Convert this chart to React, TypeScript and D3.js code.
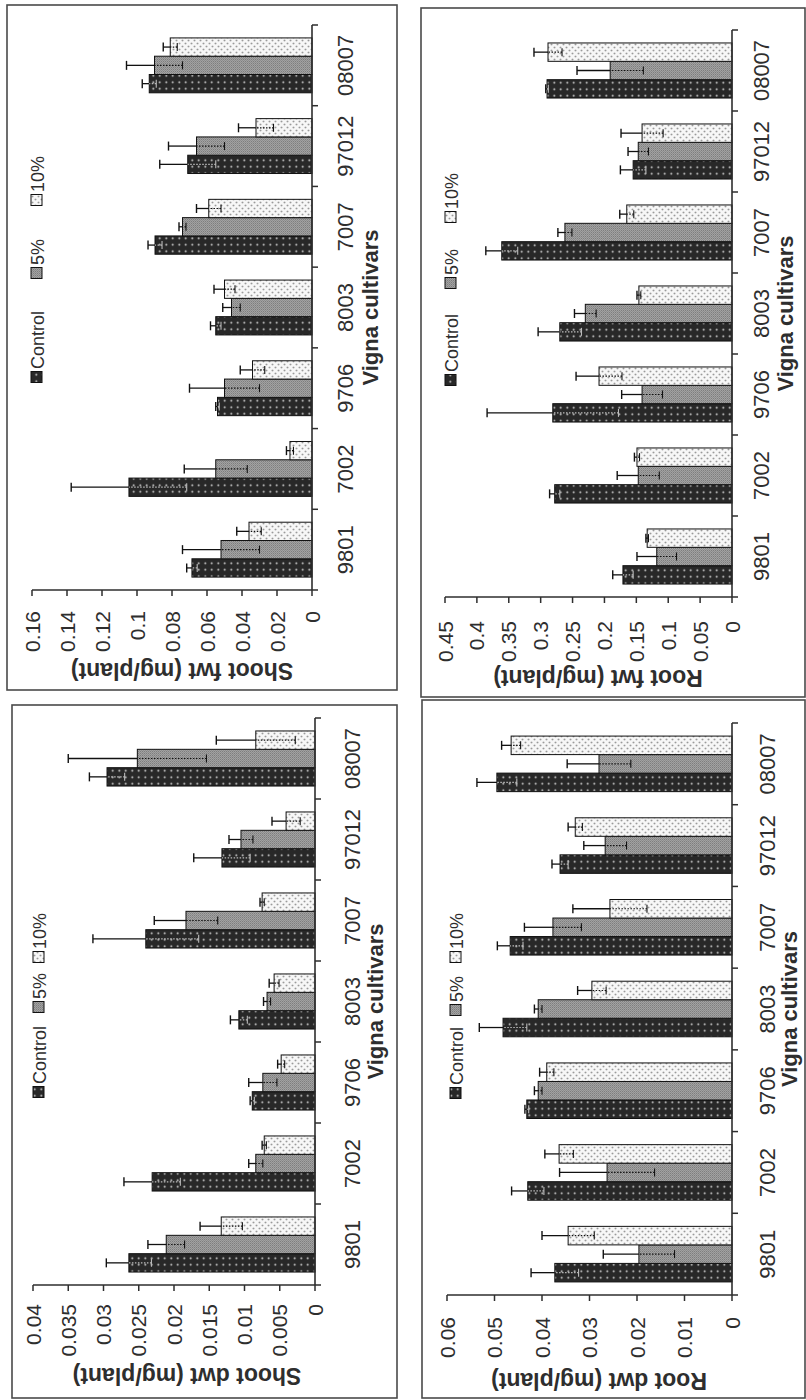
import React, { useEffect } from 'react';
import * as d3 from 'd3';

// ---------- data ----------
const cultivars = ['9801', '7002', '9706', '8003', '7007', '97012', '08007'];
const treatments = ['Control', '5%', '10%'];

// Shoot fresh weight
const shootFwtControl = [0.0686, 0.1046, 0.054, 0.055, 0.0897, 0.071, 0.093];
const shootFwtControlErr = [0.003, 0.033, 0.001, 0.003, 0.004, 0.016, 0.004];
const shootFwt5 = [0.052, 0.055, 0.05, 0.046, 0.074, 0.066, 0.09];
const shootFwt5Err = [0.022, 0.018, 0.02, 0.005, 0.002, 0.016, 0.016];
const shootFwt10 = [0.036, 0.0126, 0.034, 0.05, 0.059, 0.032, 0.081];
const shootFwt10Err = [0.007, 0.002, 0.007, 0.006, 0.007, 0.01, 0.004];
const shootFwtTicks = [0, 0.02, 0.04, 0.06, 0.08, 0.1, 0.12, 0.14, 0.16];

// Shoot dry weight
const shootDwtControl = [0.0264, 0.0231, 0.0089, 0.0108, 0.024, 0.0132, 0.0295];
const shootDwtControlErr = [0.0032, 0.004, 0.0003, 0.0012, 0.0075, 0.004, 0.0025];
const shootDwt5 = [0.0211, 0.0084, 0.0074, 0.0068, 0.0183, 0.0105, 0.0252];
const shootDwt5Err = [0.0026, 0.001, 0.002, 0.0005, 0.0045, 0.0017, 0.0098];
const shootDwt10 = [0.0133, 0.0072, 0.0048, 0.0058, 0.0075, 0.0041, 0.0084];
const shootDwt10Err = [0.003, 0.0003, 0.0005, 0.0007, 0.0003, 0.002, 0.0056];
const shootDwtTicks = [0, 0.005, 0.01, 0.015, 0.02, 0.025, 0.03, 0.035, 0.04];

// Root fresh weight
const rootFwtControl = [0.171, 0.278, 0.281, 0.27, 0.361, 0.155, 0.29];
const rootFwtControlErr = [0.016, 0.008, 0.103, 0.034, 0.025, 0.02, 0.002];
const rootFwt5 = [0.118, 0.147, 0.141, 0.23, 0.262, 0.147, 0.191];
const rootFwt5Err = [0.031, 0.033, 0.032, 0.017, 0.011, 0.016, 0.052];
const rootFwt10 = [0.133, 0.149, 0.2085, 0.146, 0.165, 0.141, 0.2885];
const rootFwt10Err = [0.002, 0.004, 0.036, 0.003, 0.011, 0.033, 0.022];
const rootFwtTicks = [0, 0.05, 0.1, 0.15, 0.2, 0.25, 0.3, 0.35, 0.4, 0.45];

// Root dry weight
const rootDwtControl = [0.0373, 0.043, 0.0432, 0.0482, 0.0467, 0.0362, 0.0495];
const rootDwtControlErr = [0.005, 0.0034, 0.0004, 0.005, 0.0027, 0.0017, 0.0042];
const rootDwt5 = [0.0196, 0.0263, 0.0408, 0.0408, 0.0377, 0.0267, 0.028];
const rootDwt5Err = [0.0075, 0.01, 0.0008, 0.0008, 0.006, 0.0045, 0.0067];
const rootDwt10 = [0.0345, 0.0364, 0.039, 0.0295, 0.0257, 0.033, 0.0465];
const rootDwt10Err = [0.0055, 0.003, 0.0015, 0.003, 0.0078, 0.0015, 0.002];
const rootDwtTicks = [0, 0.01, 0.02, 0.03, 0.04, 0.05, 0.06];

const xTitle = 'Vigna cultivars';

// ---------- layout (frame: u along original x, v along original y) ----------
type Layout = {
  tx: number; ty: number; boxW: number; boxH: number;
  cat: [number, number]; val: [number, number];
  tickEnd: number; titleU: number; titleV: number;
  catV: number; vignaV: number; legendV: number; legendU: number[];
};

const layoutA: Layout = { tx: 7, ty: 690, boxW: 685, boxH: 390, cat: [100, 665], val: [305, 25], tickEnd: 79, titleU: 27, titleV: 175, catV: 346, vignaV: 371, legendV: 37, legendU: [313, 417, 490] };
const layoutB: Layout = { tx: 12, ty: 1398, boxW: 693, boxH: 385, cat: [113, 680], val: [303, 21], tickEnd: 94, titleU: 30, titleV: 175, catV: 348, vignaV: 371, legendV: 34, legendU: [306, 391, 441] };
const layoutC: Layout = { tx: 421, ty: 697, boxW: 689, boxH: 384, cat: [100, 667], val: [311, 24], tickEnd: 76, titleU: 27, titleV: 177, catV: 348, vignaV: 372, legendV: 37, legendU: [317, 414, 480] };
const layoutD: Layout = { tx: 422, ty: 1398, boxW: 698, boxH: 383, cat: [103, 675], val: [310, 25], tickEnd: 81, titleU: 25, titleV: 177, catV: 353, vignaV: 375, legendV: 41, legendU: [305, 388, 441] };

const FONT = '"Liberation Sans", Arial, Helvetica, sans-serif';
const INK = '#2e2e2e';
const fills = ['url(#patCtrl)', 'url(#pat5)', 'url(#pat10)'];
const fmt = d3.format('~g');

type Series = { values: number[]; errors: number[] };

function Panel({ L, title, ticks, series, id }: { L: Layout; title: string; ticks: number[]; series: Series[]; id: string }) {
  const x = d3.scaleBand<string>().domain(cultivars).range(L.cat).padding(0);
  const y = d3.scaleLinear().domain([0, ticks[ticks.length - 1]]).range(L.val);
  const bw = x.bandwidth();
  const groupW = bw * 0.68;
  const barW = groupW / series.length;
  const y0 = y(0);
  const boundaries = cultivars.map((c) => x(c) as number).concat([L.cat[1]]);
  const catCenter = (L.cat[0] + L.cat[1]) / 2;

  return (
    <g transform={`translate(${L.tx},${L.ty}) rotate(-90)`} fontFamily={FONT}>
      <rect x={0} y={0} width={L.boxW} height={L.boxH} fill="none" stroke="#4a4a4a" strokeWidth={1.6} />
      {/* bars */}
      {cultivars.map((c, i) => {
        const gx = (x(c) as number) + (bw - groupW) / 2;
        return (
          <g key={c}>
            {series.map((s, k) => {
              const v = s.values[i];
              const e = s.errors[i];
              const bx = gx + k * barW;
              const cx = bx + barW / 2;
              const top = y(v);
              const hi = y(v + e);
              const lo = y(Math.max(0, v - e));
              return (
                <g key={k}>
                  <rect x={bx} y={top} width={barW} height={y0 - top} fill={fills[k]} stroke="#111" strokeWidth={1} />
                  <line x1={cx} x2={cx} y1={top} y2={hi} stroke="#111" strokeWidth={1.3} />
                  <line x1={cx} x2={cx} y1={lo} y2={top} stroke={k === 0 ? '#bbb' : '#111'} strokeWidth={1.2} strokeDasharray="1.5 1.5" />
                  <line x1={cx - 4.5} x2={cx + 4.5} y1={hi} y2={hi} stroke="#111" strokeWidth={1.4} />
                  <line x1={cx - 4} x2={cx + 4} y1={lo} y2={lo} stroke={k === 0 ? '#bbb' : '#111'} strokeWidth={1.1} />
                </g>
              );
            })}
          </g>
        );
      })}
      {/* value axis */}
      <line x1={L.cat[0]} x2={L.cat[0]} y1={y0} y2={y(ticks[ticks.length - 1])} stroke={INK} strokeWidth={1.6} />
      {ticks.map((t) => (
        <g key={t}>
          <line x1={L.cat[0] - 6} x2={L.cat[0]} y1={y(t)} y2={y(t)} stroke={INK} strokeWidth={1.5} />
          <text x={L.tickEnd} y={y(t)} textAnchor="end" dominantBaseline="central" fontSize={21} fill={INK}>{fmt(t)}</text>
        </g>
      ))}
      {/* category axis */}
      <line x1={L.cat[0]} x2={L.cat[1]} y1={y0} y2={y0} stroke={INK} strokeWidth={1.6} />
      {boundaries.map((b, i) => (
        <line key={i} x1={b} x2={b} y1={y0} y2={y0 + 6} stroke={INK} strokeWidth={1.5} />
      ))}
      {cultivars.map((c) => (
        <text key={c} x={(x(c) as number) + bw / 2} y={L.catV} textAnchor="middle" fontSize={22} fill={INK}>{c}</text>
      ))}
      <text x={catCenter} y={L.vignaV} textAnchor="middle" fontSize={22} fontWeight="bold" fill={INK}>{xTitle}</text>
      {/* y title */}
      <text transform={`translate(${L.titleU},${L.titleV}) rotate(-90)`} textAnchor="middle" fontSize={23} fontWeight="bold" fill={INK}>{title}</text>
      {/* legend */}
      {treatments.map((t, k) => (
        <g key={t}>
          <rect x={L.legendU[k] - 5.5} y={L.legendV - 13} width={11} height={11} fill={fills[k]} stroke="#111" strokeWidth={1} />
          <text x={L.legendU[k] + 8} y={L.legendV} fontSize={18} fill={INK}>{t}</text>
        </g>
      ))}
    </g>
  );
}

export default function App() {
  useEffect(() => {
    document.body.style.margin = '0';
  }, []);
  const mk = (v: number[][], e: number[][]): Series[] => v.map((vals, i) => ({ values: vals, errors: e[i] }));
  return (
    <svg width={806} height={1400} viewBox="0 0 806 1400" style={{ position: 'absolute', left: 0, top: 0, background: '#fff' }}>
      <defs>
        <pattern id="patCtrl" width="6.5" height="6.5" patternUnits="userSpaceOnUse">
          <rect width="6.5" height="6.5" fill="#282828" />
          <circle cx="3.25" cy="3.25" r="1" fill="#d8d8d8" />
        </pattern>
        <pattern id="pat5" width="2" height="2" patternUnits="userSpaceOnUse">
          <rect width="2" height="2" fill="#a2a2a2" />
          <rect width="1" height="1" fill="#7e7e7e" />
          <rect x="1" y="1" width="1" height="1" fill="#8e8e8e" />
        </pattern>
        <pattern id="pat10" width="6" height="6" patternUnits="userSpaceOnUse">
          <rect width="6" height="6" fill="#f7f7f7" />
          <circle cx="1.5" cy="1.5" r="0.9" fill="#9a9a9a" />
          <circle cx="4.5" cy="4.5" r="0.9" fill="#9a9a9a" />
        </pattern>
      </defs>
      <rect width={806} height={1400} fill="#fff" />
      <Panel id="a" L={layoutA} title="Shoot fwt (mg/plant)" ticks={shootFwtTicks}
        series={mk([shootFwtControl, shootFwt5, shootFwt10], [shootFwtControlErr, shootFwt5Err, shootFwt10Err])} />
      <Panel id="b" L={layoutB} title="Shoot dwt (mg/plant)" ticks={shootDwtTicks}
        series={mk([shootDwtControl, shootDwt5, shootDwt10], [shootDwtControlErr, shootDwt5Err, shootDwt10Err])} />
      <Panel id="c" L={layoutC} title="Root fwt (mg/plant)" ticks={rootFwtTicks}
        series={mk([rootFwtControl, rootFwt5, rootFwt10], [rootFwtControlErr, rootFwt5Err, rootFwt10Err])} />
      <Panel id="d" L={layoutD} title="Root dwt (mg/plant)" ticks={rootDwtTicks}
        series={mk([rootDwtControl, rootDwt5, rootDwt10], [rootDwtControlErr, rootDwt5Err, rootDwt10Err])} />
    </svg>
  );
}
